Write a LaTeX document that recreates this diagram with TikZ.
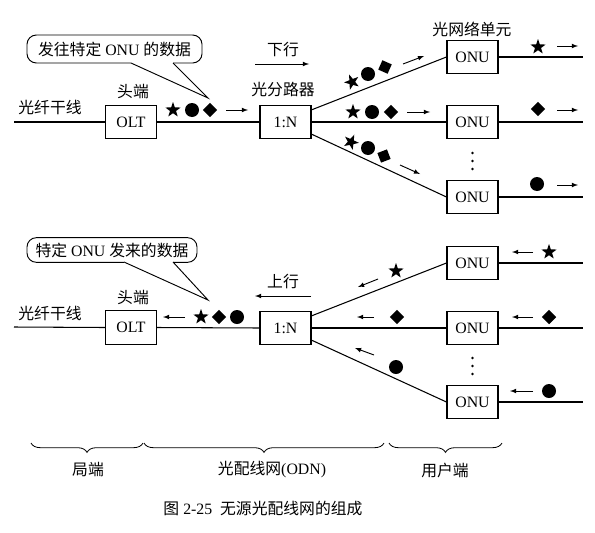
\documentclass[tikz,border=0pt]{standalone}
\usepackage{fontspec}
\setmainfont{Liberation Serif}
\newfontfamily\cjk{Noto Sans CJK SC}
\usetikzlibrary{arrows, decorations.pathreplacing, shapes.geometric, positioning}

\tikzset{
	box/.style={draw, line width=0.9pt, minimum width=1.53cm, minimum height=1.0cm, inner sep=0pt},
	lbl/.style={font=\fontsize{13.5}{16}\selectfont\cjk, inner sep=1pt},
	bubble/.style={draw, line width=0.8pt, rounded corners=8pt, inner sep=0pt},
	starsym/.style={star, star points=5, star point ratio=2.5, fill, inner sep=0pt, minimum size=0.48cm},
	dotsym/.style={circle, fill, inner sep=0pt, minimum size=0.42cm},
	diasym/.style={diamond, fill, inner sep=0pt, minimum size=0.44cm},
	flow/.style={-latex, line width=0.8pt},
	fibre/.style={line width=0.9pt},
}

\begin{document}
\begin{tikzpicture}[x=0.03cm, y=-0.03cm, font=\fontsize{13.5}{16}\selectfont]
	\useasboundingbox (0,0) rectangle (595,532);

	% ---- downstream ----
	\coordinate (inA) at (14,122);
	\node[box] (oltA) at (131,122) {OLT};
	\node[box] (splA) at (285.5,122) {1:N};
	\node[box] (onuA1) at (472.5,57) {ONU};
	\node[box] (onuA2) at (472.5,122) {ONU};
	\node[box] (onuA3) at (472.5,197) {ONU};
	\coordinate (outA1) at (583,57);
	\coordinate (outA2) at (583,122);
	\coordinate (outA3) at (583,197);

	\draw[fibre] (inA) -- (oltA.west);
	\draw[fibre] (oltA.east) -- (splA.west);
	\draw[fibre] (splA.25) -- (onuA1.west);
	\draw[fibre] (splA.east) -- (onuA2.west);
	\draw[fibre] (splA.-25) -- (onuA3.west);
	\foreach \i in {1,2,3}{
		\draw[fibre] (onuA\i.east) -- (outA\i);
	}

	\node[lbl] (trunkA) at (50,107) {光纤干线};
	\node[lbl] (headA) at (133,92) {头端};
	\node[lbl] (splnameA) at (283,90) {光分路器};
	\node[lbl] (onuname) at (472,29) {光网络单元};
	\node[lbl] (down) at (283,50) {下行};
	\draw[flow] (255,64) -- (309,64);
	\coordinate (vdA) at (472.5,161);
	\foreach \d in {-8,0,8}{
		\fill (vdA) ++(0,\d) circle (1.3);
	}

	\node[bubble, minimum width=5.25cm, minimum height=0.84cm] (bubA) at (114.5,49) {{\cjk 发往特定} ONU {\cjk 的数据}};
	\coordinate (tipA) at (208,98);
	\fill[white] (131,60) rectangle (173,66);
	\draw[line width=0.8pt] (131,63) -- (tipA) -- (173,63);

	% symbols on the trunk
	\node[starsym] (sA0) at (173,110) {};
	\node[dotsym] (cA0) at (192,110) {};
	\node[diasym] (dA0) at (210,110) {};
	\draw[flow] (226,110) -- (248,110);
	% symbols on the branches
	\node[starsym, rotate=21] (sA1) at (352,82) {};
	\node[dotsym] (cA1) at (368,74) {};
	\node[diasym, rotate=21] (dA1) at (385,67) {};
	\draw[flow] (403,64) -- (424,56);
	\node[starsym] (sA2) at (353,112) {};
	\node[dotsym] (cA2) at (372,112) {};
	\node[diasym] (dA2) at (391,112) {};
	\draw[flow] (407,112) -- (430,112);
	\node[starsym, rotate=-24] (sA3) at (351,142) {};
	\node[dotsym] (cA3) at (368,148) {};
	\node[diasym, rotate=-24] (dA3) at (384,156) {};
	\draw[flow] (400,165) -- (420,174);
	% symbols at the users
	\node[starsym] (sA4) at (538,47) {};
	\draw[flow] (557,46) -- (578,46);
	\node[diasym] (dA4) at (538,109) {};
	\draw[flow] (557,110) -- (578,110);
	\node[dotsym] (cA4) at (537,184) {};
	\draw[flow] (557,185) -- (578,185);

	% ---- upstream ----
	\coordinate (inB) at (14,327);
	\node[box] (oltB) at (131,327.5) {OLT};
	\node[box] (splB) at (285.5,328) {1:N};
	\node[box] (onuB1) at (472.5,263) {ONU};
	\node[box] (onuB2) at (472.5,328) {ONU};
	\node[box] (onuB3) at (472.5,402) {ONU};
	\coordinate (outB1) at (583,263);
	\coordinate (outB2) at (583,328);
	\coordinate (outB3) at (583,402);

	\draw[fibre] (inB) -- (oltB.west);
	\draw[fibre] (oltB.east) -- (splB.west);
	\draw[fibre] (splB.25) -- (onuB1.west);
	\draw[fibre] (splB.east) -- (onuB2.west);
	\draw[fibre] (splB.-25) -- (onuB3.west);
	\foreach \i in {1,2,3}{
		\draw[fibre] (onuB\i.east) -- (outB\i);
	}

	\node[lbl] (trunkB) at (50,313) {光纤干线};
	\node[lbl] (headB) at (133,298) {头端};
	\node[lbl] (up) at (283,282) {上行};
	\draw[flow] (311,296) -- (255,296);
	\coordinate (vdB) at (472.5,366);
	\foreach \d in {-8,0,8}{
		\fill (vdB) ++(0,\d) circle (1.3);
	}

	\node[bubble, minimum width=5.1cm, minimum height=0.74cm] (bubB) at (112,250) {{\cjk 特定} ONU {\cjk 发来的数据}};
	\coordinate (tipB) at (208,300);
	\fill[white] (124,259) rectangle (173,265);
	\draw[line width=0.8pt] (124,262) -- (tipB) -- (173,262);

	\draw[flow] (185,317) -- (163,317);
	\node[starsym] (sB0) at (201,317) {};
	\node[diasym] (dB0) at (219,317) {};
	\node[dotsym] (cB0) at (237,317) {};

	\node[starsym] (sB1) at (396,271) {};
	\draw[flow] (378,279) -- (358,287);
	\node[diasym] (dB2) at (397,317) {};
	\draw[flow] (374,317) -- (357,317);
	\node[dotsym] (cB3) at (396,367) {};
	\draw[flow] (374,355) -- (355,348);

	\node[starsym] (sB4) at (549,252) {};
	\draw[flow] (533,252) -- (512,252);
	\node[diasym] (dB4) at (549,317) {};
	\draw[flow] (533,317) -- (512,317);
	\node[dotsym] (cB4) at (549,391) {};
	\draw[flow] (533,391) -- (510,391);

	% ---- parts ----
	\draw[decorate, decoration={brace, mirror, amplitude=8pt}, line width=0.7pt] (31,443) -- (143,443);
	\draw[decorate, decoration={brace, mirror, amplitude=8pt}, line width=0.7pt] (144,443) -- (384,443);
	\draw[decorate, decoration={brace, mirror, amplitude=8pt}, line width=0.7pt] (389,443) -- (502,443);
	\node[lbl] (office) at (88,470) {局端};
	\node (odn) at (272,470) {{\cjk 光配线网}(ODN)};
	\node[lbl] (user) at (445,470) {用户端};

	\node (caption) at (263,509) {{\cjk 图} 2-25\enspace{\cjk 无源光配线网的组成}};
\end{tikzpicture}
\end{document}
